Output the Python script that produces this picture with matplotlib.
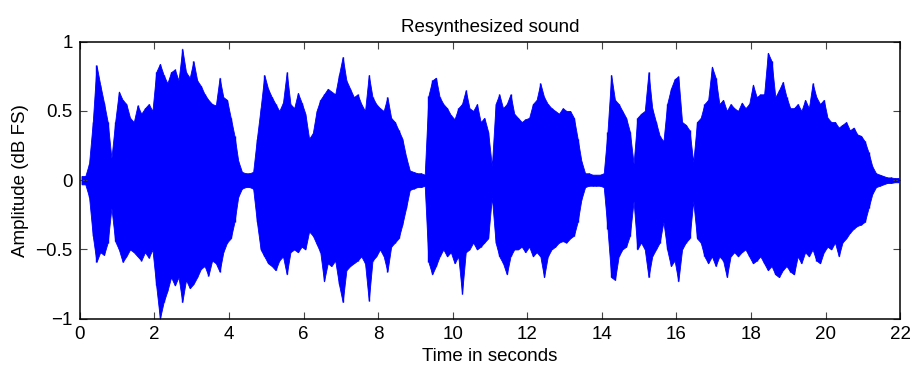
import numpy as np
import matplotlib
matplotlib.use("Agg")
import matplotlib.pyplot as plt

# Envelope of the resynthesized waveform, one value per 0.1 s bin (bin start times from 0.0 s)
bin_width = 0.1
upper = [
    0.03, 0.03, 0.12, 0.42, 0.83, 0.69, 0.56, 0.42, 0.16, 0.42,   # 0.0-0.9
    0.64, 0.58, 0.55, 0.45, 0.42, 0.54, 0.48, 0.52, 0.55, 0.50,   # 1.0-1.9
    0.78, 0.84, 0.76, 0.70, 0.78, 0.80, 0.72, 0.95, 0.78, 0.74,   # 2.0-2.9
    0.86, 0.72, 0.68, 0.62, 0.58, 0.55, 0.54, 0.74, 0.60, 0.58,   # 3.0-3.9
    0.45, 0.32, 0.14, 0.06, 0.05, 0.05, 0.06, 0.30, 0.52, 0.76,   # 4.0-4.9
    0.66, 0.60, 0.55, 0.50, 0.56, 0.78, 0.55, 0.52, 0.63, 0.56,   # 5.0-5.9
    0.48, 0.30, 0.34, 0.50, 0.58, 0.62, 0.66, 0.64, 0.62, 0.76,   # 6.0-6.9
    0.89, 0.72, 0.66, 0.60, 0.62, 0.55, 0.50, 0.76, 0.60, 0.55,   # 7.0-7.9
    0.52, 0.50, 0.60, 0.45, 0.42, 0.36, 0.30, 0.17, 0.07, 0.06,   # 8.0-8.9
    0.05, 0.05, 0.04, 0.61, 0.72, 0.74, 0.60, 0.55, 0.52, 0.47,   # 9.0-9.9
    0.44, 0.52, 0.55, 0.65, 0.52, 0.50, 0.55, 0.42, 0.45, 0.35,   # 10.0-10.9
    0.10, 0.55, 0.62, 0.52, 0.55, 0.62, 0.48, 0.45, 0.42, 0.44,   # 11.0-11.9
    0.45, 0.55, 0.58, 0.70, 0.60, 0.55, 0.52, 0.50, 0.48, 0.52,   # 12.0-12.9
    0.50, 0.50, 0.45, 0.30, 0.14, 0.05, 0.05, 0.04, 0.04, 0.04,   # 13.0-13.9
    0.05, 0.35, 0.76, 0.58, 0.55, 0.50, 0.45, 0.35, 0.12, 0.45,   # 14.0-14.9
    0.48, 0.50, 0.78, 0.52, 0.42, 0.32, 0.28, 0.55, 0.66, 0.73,   # 15.0-15.9
    0.75, 0.42, 0.40, 0.36, 0.13, 0.42, 0.45, 0.55, 0.58, 0.82,   # 16.0-16.9
    0.74, 0.55, 0.58, 0.50, 0.55, 0.52, 0.50, 0.56, 0.52, 0.55,   # 17.0-17.9
    0.69, 0.60, 0.62, 0.62, 0.92, 0.86, 0.60, 0.65, 0.71, 0.60,   # 18.0-18.9
    0.52, 0.52, 0.55, 0.50, 0.58, 0.52, 0.70, 0.60, 0.55, 0.58,   # 19.0-19.9
    0.45, 0.42, 0.42, 0.38, 0.40, 0.42, 0.36, 0.38, 0.33, 0.32,   # 20.0-20.9
    0.28, 0.20, 0.10, 0.05, 0.04, 0.03, 0.02, 0.02, 0.015, 0.015, # 21.0-21.9
]
lower = [
    -0.03, -0.03, -0.12, -0.40, -0.59, -0.52, -0.54, -0.45, -0.20, -0.44,
    -0.50, -0.59, -0.55, -0.50, -0.52, -0.55, -0.58, -0.52, -0.56, -0.50,
    -0.76, -1.00, -0.88, -0.80, -0.70, -0.76, -0.70, -0.88, -0.72, -0.78,
    -0.75, -0.70, -0.64, -0.62, -0.69, -0.58, -0.60, -0.66, -0.52, -0.45,
    -0.42, -0.30, -0.12, -0.06, -0.05, -0.05, -0.06, -0.30, -0.50, -0.55,
    -0.60, -0.62, -0.65, -0.58, -0.55, -0.68, -0.52, -0.50, -0.52, -0.48,
    -0.50, -0.37, -0.40, -0.46, -0.52, -0.73, -0.60, -0.62, -0.58, -0.75,
    -0.88, -0.65, -0.62, -0.60, -0.58, -0.55, -0.60, -0.87, -0.58, -0.55,
    -0.50, -0.55, -0.66, -0.48, -0.45, -0.42, -0.32, -0.20, -0.07, -0.06,
    -0.05, -0.05, -0.04, -0.59, -0.68, -0.62, -0.55, -0.50, -0.55, -0.52,
    -0.60, -0.55, -0.82, -0.52, -0.50, -0.45, -0.50, -0.48, -0.45, -0.42,
    -0.12, -0.45, -0.55, -0.60, -0.68, -0.55, -0.50, -0.50, -0.48, -0.52,
    -0.48, -0.55, -0.52, -0.55, -0.70, -0.55, -0.50, -0.48, -0.45, -0.44,
    -0.45, -0.42, -0.40, -0.30, -0.14, -0.05, -0.04, -0.04, -0.04, -0.04,
    -0.05, -0.35, -0.70, -0.72, -0.55, -0.50, -0.48, -0.40, -0.15, -0.50,
    -0.45, -0.50, -0.70, -0.55, -0.50, -0.45, -0.30, -0.50, -0.62, -0.58,
    -0.73, -0.50, -0.45, -0.42, -0.15, -0.42, -0.45, -0.55, -0.60, -0.55,
    -0.62, -0.55, -0.58, -0.70, -0.55, -0.52, -0.55, -0.52, -0.50, -0.55,
    -0.60, -0.58, -0.55, -0.60, -0.65, -0.62, -0.68, -0.70, -0.65, -0.62,
    -0.66, -0.68, -0.55, -0.60, -0.52, -0.55, -0.50, -0.58, -0.60, -0.52,
    -0.48, -0.50, -0.45, -0.55, -0.45, -0.42, -0.38, -0.35, -0.33, -0.32,
    -0.30, -0.20, -0.10, -0.05, -0.04, -0.03, -0.02, -0.02, -0.015, -0.015,
]
x_ticks = [0, 2, 4, 6, 8, 10, 12, 14, 16, 18, 20, 22]
y_ticks = [-1, -0.5, 0, 0.5, 1]
y_ticklabels = ["\u22121", "\u22120.5", "0", "0.5", "1"]
title = "Resynthesized sound"
xlabel = "Time in seconds"
ylabel = "Amplitude (dB FS)"

plt.rcParams["font.family"] = ["Liberation Sans", "DejaVu Sans"]

BLUE = "#0000ff"
up = np.asarray(upper)
lo = np.asarray(lower)
tc = np.arange(len(up)) * bin_width + bin_width / 2

fig = plt.figure(figsize=(9.10, 3.67), dpi=100)
ax = fig.add_axes([0.0876, 0.1316, 0.9017, 0.7548])
# solid body of the waveform between the per-bin extremes
ax.fill_between(tc, lo, up, color=BLUE, lw=0.6, edgecolor=BLUE)
# the per-bin peaks as thin vertical strokes
ax.vlines(tc, lo, up, color=BLUE, lw=1.0)

ax.set_xlim(0, 22)
ax.set_ylim(-1, 1)
ax.set_xticks(x_ticks)
ax.set_xticklabels([str(v) for v in x_ticks])
ax.set_yticks(y_ticks)
ax.set_yticklabels(y_ticklabels)
ax.tick_params(direction="in", length=5, width=0.8, color="#444444",
               top=True, right=True, labelsize=13.5, pad=5)
for s in ax.spines.values():
    s.set_linewidth(1.1)
    s.set_color("black")
    s.set_zorder(5)
ax.set_title(title, fontsize=13.5, pad=7)
ax.set_xlabel(xlabel, fontsize=13.5, labelpad=4)
ax.set_ylabel(ylabel, fontsize=13.5, labelpad=5)

fig.savefig("out.png", dpi=100)
